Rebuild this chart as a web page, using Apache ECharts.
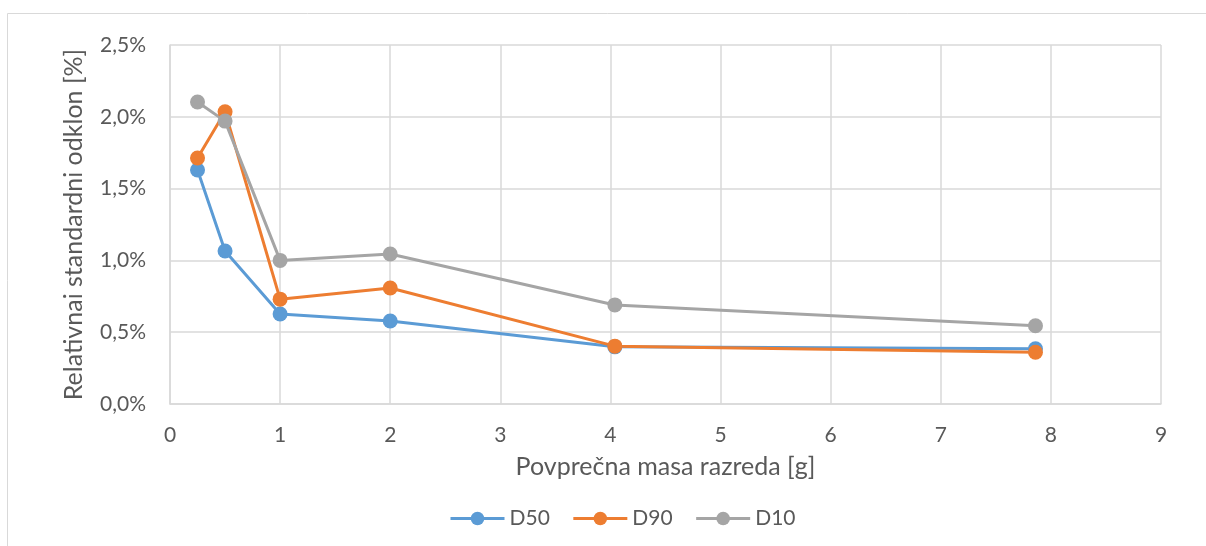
<!DOCTYPE html>
<html>
<head>
<meta charset="utf-8">
<script src="https://cdn.jsdelivr.net/npm/echarts@6/dist/echarts.min.js"></script>
<style>html,body{margin:0;padding:0;background:#fff;}#c{width:1206px;height:546px;}</style>
</head>
<body>
<div id="c"></div>
<script>
const xMass = [0.25, 0.5, 1.0, 2.0, 4.04, 7.86];
const d50 = [1.63, 1.065, 0.627, 0.578, 0.398, 0.385];
const d90 = [1.713, 2.035, 0.73, 0.808, 0.403, 0.36];
const d10 = [2.103, 1.97, 1.0, 1.045, 0.69, 0.545];
const seriesNames = ['D50', 'D90', 'D10'];
const seriesColors = ['#5B9BD5', '#ED7D31', '#A5A5A5'];
const xTitle = 'Povprečna masa razreda [g]';
const yTitle = 'Relativnai standardni odklon [%]';

const font = 'Lato, "Open Sans", sans-serif';
const txt = '#595959';
const chart = echarts.init(document.getElementById('c'), null, {renderer: 'canvas'});
const pairs = arr => xMass.map((x, i) => [x, arr[i]]);
const all = [d50, d90, d10];
chart.setOption({
  animation: false,
  graphic: [{
    type: 'rect', shape: {x: 7.5, y: 13.5, width: 1300, height: 700},
    style: {fill: 'none', stroke: '#D9D9D9', lineWidth: 1}, silent: true
  }],
  grid: {left: 170, right: 45, top: 45, bottom: 142},
  legend: {
    data: seriesNames, left: 444, top: 503, itemWidth: 54, itemHeight: 17, itemGap: 22,
    lineStyle: {width: 3},
    textStyle: {color: txt, fontSize: 21, fontFamily: font}
  },
  xAxis: {
    type: 'value', min: 0, max: 9, interval: 1,
    name: xTitle, nameLocation: 'middle', nameGap: 50,
    nameTextStyle: {color: txt, fontSize: 25, fontFamily: font},
    axisLine: {show: true, lineStyle: {color: '#D9D9D9', width: 1.5}},
    axisTick: {show: false},
    axisLabel: {color: txt, fontSize: 21, fontFamily: font, margin: 21},
    splitLine: {show: true, lineStyle: {color: '#D9D9D9', width: 1.5}}
  },
  yAxis: {
    type: 'value', min: 0, max: 2.5, interval: 0.5,
    name: yTitle, nameLocation: 'middle', nameGap: 84,
    nameTextStyle: {color: txt, fontSize: 25, fontFamily: font},
    axisLine: {show: true, lineStyle: {color: '#D9D9D9', width: 1.5}},
    axisTick: {show: false},
    axisLabel: {color: txt, fontSize: 21, fontFamily: font, margin: 24,
      formatter: v => v.toFixed(1).replace('.', ',') + '%'},
    splitLine: {show: true, lineStyle: {color: '#D9D9D9', width: 1.5}}
  },
  series: seriesNames.map((n, i) => ({
    name: n, type: 'line', data: pairs(all[i]),
    symbol: 'circle', symbolSize: 15,
    lineStyle: {color: seriesColors[i], width: 3},
    itemStyle: {color: seriesColors[i]}
  }))
});
</script>
</body>
</html>
